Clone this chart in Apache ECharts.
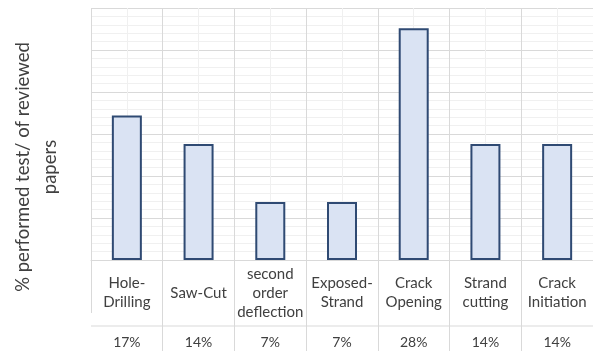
<!DOCTYPE html>
<html>
<head>
<meta charset="utf-8">
<script src="https://cdn.jsdelivr.net/npm/echarts@6/dist/echarts.min.js"></script>
<style>
html,body{margin:0;padding:0;background:#fff;}
#chart{width:593px;height:351px;}
</style>
</head>
<body>
<div id="chart"></div>
<script>
const categories = ["Hole-\nDrilling", "Saw-Cut", "second\norder\ndeflection", "Exposed-\nStrand", "Crack\nOpening", "Strand\ncutting", "Crack\nInitiation"];
const values = [17.2, 13.8, 6.9, 6.9, 27.6, 13.8, 13.8];
const tableLabels = ["17%", "14%", "7%", "7%", "28%", "14%", "14%"];
const yTitle = "% performed test/ of reviewed\npapers";

const FONT = "Lato";
const chart = echarts.init(document.getElementById('chart'), null, {renderer: 'canvas'});
const colW = 72.2;
chart.setOption({
  animation: false,
  grid: {left: 91, top: 8, width: colW * categories.length, height: 252, containLabel: false},
  xAxis: [
    {
      type: 'category', data: categories, position: 'bottom',
      axisLine: {show: true, lineStyle: {color: '#d9d9d9', width: 1}},
      axisTick: {show: true, length: 91, interval: function (idx) { return idx !== 0; }, lineStyle: {color: '#d9d9d9'}},
      axisLabel: {color: '#404040', fontFamily: FONT, fontSize: 15, lineHeight: 19, margin: 33, verticalAlign: 'middle', interval: 0},
      splitLine: {show: true, interval: 0, lineStyle: {color: '#d9d9d9'}}
    },
    {
      type: 'category', data: tableLabels, position: 'bottom', offset: 66,
      axisLine: {show: false}, axisTick: {show: false},
      axisLabel: {color: '#404040', fontFamily: FONT, fontSize: 14, margin: 16, verticalAlign: 'middle', interval: 0},
      splitLine: {show: false}
    },
    {
      type: 'value', position: 'top', min: 0, max: categories.length, interval: 1,
      axisLine: {show: false}, axisTick: {show: false}, axisLabel: {show: false},
      splitLine: {show: false},
      minorTick: {show: false, splitNumber: 2},
      minorSplitLine: {show: true, lineStyle: {color: '#f0f0f0'}}
    }
  ],
  yAxis: {
    type: 'value', min: 0, max: 30, interval: 5,
    axisLine: {show: false}, axisTick: {show: false}, axisLabel: {show: false},
    splitLine: {show: true, lineStyle: {color: '#d9d9d9'}},
    minorTick: {show: false, splitNumber: 5},
    minorSplitLine: {show: true, lineStyle: {color: '#f0f0f0'}}
  },
  series: [{
    type: 'bar', data: values, xAxisIndex: 0, barWidth: 30,
    itemStyle: {color: '#dae3f3', borderColor: '#2f4a73', borderWidth: 2}
  }],
  graphic: [
    {type: 'line', shape: {x1: 91, y1: 326, x2: 600, y2: 326}, style: {stroke: '#d9d9d9', lineWidth: 1}, silent: true},
    {type: 'line', shape: {x1: 91.5, y1: 260, x2: 91.5, y2: 313}, style: {stroke: '#d9d9d9', lineWidth: 1}, silent: true},
    {type: 'text', x: 37, y: 167, rotation: Math.PI / 2,
     style: {text: yTitle, fontFamily: FONT, fontSize: 18.5, lineHeight: 27, fill: '#404040', align: 'center', verticalAlign: 'middle'}}
  ]
});
</script>
</body>
</html>
